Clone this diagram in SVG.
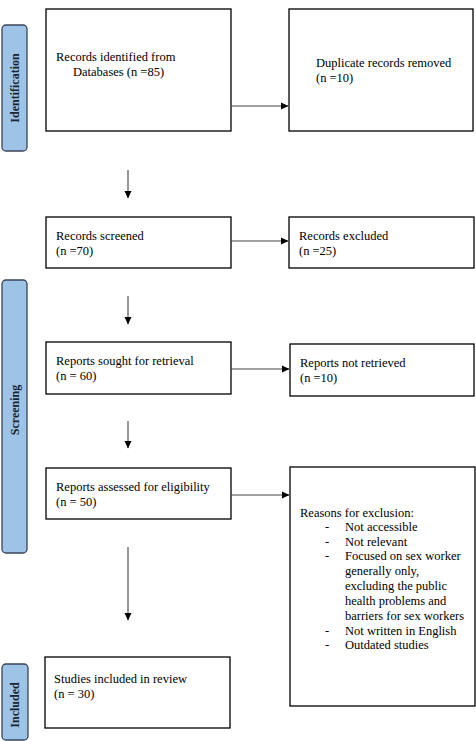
<svg xmlns="http://www.w3.org/2000/svg" width="476" height="741" viewBox="0 0 476 741">
<style>
.box{fill:#fff;stroke:#000;stroke-width:1.3}
.bar{fill:#9dc3e6;stroke:#3a4656;stroke-width:1.3}
.t{font-family:"Liberation Serif","Times New Roman",serif;font-size:12.5px;fill:#000}
.lab{font-family:"Liberation Serif","Times New Roman",serif;font-size:12px;font-weight:bold;fill:#1a2533}
.c{stroke:#444;stroke-width:1.1;fill:none}
</style>
<defs>
<marker id="ah" markerWidth="8" markerHeight="8" refX="7" refY="4" orient="auto" markerUnits="userSpaceOnUse"><path d="M0,0.5 L7.5,4 L0,7.5 Z" fill="#000"/></marker>
</defs>
<g id="phase-identification"><rect class="bar" x="2" y="25" width="25" height="126" rx="4"/><text class="lab" transform="translate(19,88) rotate(-90)" text-anchor="middle">Identification</text></g>
<g id="phase-screening"><rect class="bar" x="2" y="280" width="25" height="273" rx="4"/><text class="lab" transform="translate(19,410) rotate(-90)" text-anchor="middle">Screening</text></g>
<g id="phase-included"><rect class="bar" x="2" y="664" width="26" height="76" rx="4"/><text class="lab" transform="translate(19,705) rotate(-90)" text-anchor="middle">Included</text></g>
<g id="n1"><rect class="box" x="46" y="9" width="185" height="122"/><text class="t" x="56" y="61">Records identified from</text><text class="t" x="73" y="76">Databases (n =85)</text></g>
<g id="n2"><rect class="box" x="289" y="9" width="184" height="122"/><text class="t" x="316" y="67">Duplicate records removed</text><text class="t" x="316" y="82">(n =10)</text></g>
<g id="n3"><rect class="box" x="46" y="217" width="185" height="51"/><text class="t" x="56" y="240">Records screened</text><text class="t" x="56" y="255">(n =70)</text></g>
<g id="n4"><rect class="box" x="289" y="217" width="185" height="51"/><text class="t" x="299" y="240">Records excluded</text><text class="t" x="299" y="255">(n =25)</text></g>
<g id="n5"><rect class="box" x="46" y="342" width="185" height="52"/><text class="t" x="56" y="365">Reports sought for retrieval</text><text class="t" x="56" y="380">(n = 60)</text></g>
<g id="n6"><rect class="box" x="290" y="344" width="184" height="52"/><text class="t" x="300" y="367">Reports not retrieved</text><text class="t" x="300" y="382">(n =10)</text></g>
<g id="n7"><rect class="box" x="46" y="468" width="185" height="51"/><text class="t" x="56" y="491">Reports assessed for eligibility</text><text class="t" x="56" y="506">(n = 50)</text></g>
<g id="n8"><rect class="box" x="290" y="467" width="185" height="239"/>
<text class="t" x="300" y="517">Reasons for exclusion:</text>
<text class="t" x="325" y="531">-</text><text class="t" x="345" y="531">Not accessible</text>
<text class="t" x="325" y="546">-</text><text class="t" x="345" y="546">Not relevant</text>
<text class="t" x="325" y="560">-</text><text class="t" x="345" y="560">Focused on sex worker</text>
<text class="t" x="345" y="575">generally only,</text>
<text class="t" x="345" y="590">excluding the public</text>
<text class="t" x="345" y="605">health problems and</text>
<text class="t" x="345" y="620">barriers for sex workers</text>
<text class="t" x="325" y="635">-</text><text class="t" x="345" y="635">Not written in English</text>
<text class="t" x="325" y="649">-</text><text class="t" x="345" y="649">Outdated studies</text>
</g>
<g id="n9"><rect class="box" x="45" y="657" width="185" height="71"/><text class="t" x="54" y="683">Studies included in review</text><text class="t" x="54" y="698">(n = 30)</text></g>
<g id="connectors">
<line class="c" x1="231" y1="106" x2="288" y2="106" marker-end="url(#ah)"/>
<line class="c" x1="128" y1="170" x2="128" y2="198" marker-end="url(#ah)"/>
<line class="c" x1="231" y1="241" x2="288" y2="241" marker-end="url(#ah)"/>
<line class="c" x1="128" y1="296" x2="128" y2="324" marker-end="url(#ah)"/>
<line class="c" x1="231" y1="369" x2="289" y2="369" marker-end="url(#ah)"/>
<line class="c" x1="128" y1="421" x2="128" y2="448" marker-end="url(#ah)"/>
<line class="c" x1="231" y1="495" x2="289" y2="495" marker-end="url(#ah)"/>
<line class="c" x1="128" y1="547" x2="128" y2="620" marker-end="url(#ah)"/>
</g>
</svg>
